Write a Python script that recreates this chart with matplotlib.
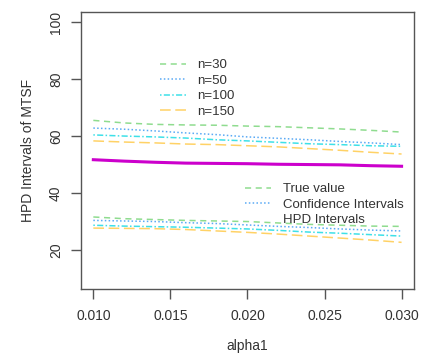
import matplotlib
matplotlib.use("Agg")
import matplotlib.pyplot as plt
from matplotlib.lines import Line2D

plt.rcParams['font.family'] = ['Liberation Sans', 'DejaVu Sans']

# alpha1 grid
alpha1 = [0.010, 0.012, 0.014, 0.016, 0.018, 0.020, 0.022, 0.024, 0.026, 0.028, 0.030]

# upper bounds of intervals
upper_n30 = [65.6, 64.7, 64.2, 64.0, 63.9, 63.6, 63.4, 63.0, 62.6, 62.1, 61.5]
upper_n50 = [62.9, 62.5, 61.9, 61.2, 60.6, 59.8, 59.3, 58.8, 58.2, 57.7, 57.1]
upper_n100 = [60.5, 60.1, 59.8, 59.4, 58.8, 58.4, 57.9, 57.4, 57.1, 56.7, 56.5]
upper_n150 = [58.4, 58.0, 57.7, 57.3, 57.1, 56.7, 56.3, 55.7, 55.1, 54.4, 53.8]

# true MTSF
true_value = [51.8, 51.3, 50.9, 50.6, 50.5, 50.4, 50.2, 50.1, 50.0, 49.7, 49.5]

# lower bounds of intervals
lower_n30 = [31.7, 31.1, 30.8, 30.5, 30.3, 30.1, 29.6, 29.1, 28.8, 28.5, 28.4]
lower_n50 = [30.5, 30.3, 30.1, 29.7, 29.4, 28.9, 28.4, 28.0, 27.5, 27.1, 26.8]
lower_n100 = [28.8, 28.5, 28.3, 28.1, 27.8, 27.5, 27.0, 26.4, 26.0, 25.5, 25.0]
lower_n150 = [27.8, 27.7, 27.6, 27.3, 26.8, 26.3, 25.7, 25.0, 24.3, 23.6, 22.8]

n_labels = ['n=30', 'n=50', 'n=100', 'n=150']
colores = ['#8fdc8f', '#5aaaf5', '#3ee0e8', '#ffd266']
estilos = [(0, (4, 3)), (0, (1, 1.5)), (0, (1, 1.5, 4, 1.5)), (0, (7, 3))]

fig = plt.figure(figsize=(4.23, 3.56), dpi=100)
ax = fig.add_axes([0.1915, 0.188, 0.787, 0.778])

uppers = [upper_n30, upper_n50, upper_n100, upper_n150]
lowers = [lower_n30, lower_n50, lower_n100, lower_n150]
handles = []
for up, lo, cor, ls, lab in zip(uppers, lowers, colores, estilos, n_labels):
    h, = ax.plot(alpha1, up, color=cor, linestyle=ls, linewidth=1.1, label=lab)
    ax.plot(alpha1, lo, color=cor, linestyle=ls, linewidth=1.1)
    handles.append(h)

ax.plot(alpha1, true_value, color='#cc00cc', linewidth=2.2)

ax.set_xlim(0.0092, 0.0308)
ax.set_ylim(6.4, 103.6)
ax.set_xticks([0.010, 0.015, 0.020, 0.025, 0.030])
ax.set_xticklabels(['0.010', '0.015', '0.020', '0.025', '0.030'])
ax.set_yticks([20, 40, 60, 80, 100])
ax.set_yticklabels(['20', '40', '60', '80', '100'], rotation=90, va='center')

for s in ax.spines.values():
    s.set_color('#555555')
    s.set_linewidth(1.0)
ax.tick_params(colors='#555555', labelcolor='#333333', labelsize=10,
               length=7, width=1.0, pad=6)
ax.tick_params(axis='x', pad=7)

ax.set_xlabel('alpha1', fontsize=10, color='#333333', labelpad=12)
ax.set_ylabel('HPD Intervals of MTSF', fontsize=10, color='#333333',
              labelpad=10)

leg1 = ax.legend(handles=handles, loc='upper left',
                 bbox_to_anchor=(160 / 423, 1 - 59 / 356),
                 bbox_transform=fig.transFigure, frameon=False,
                 fontsize=9.5, handlelength=2.0, handletextpad=0.85,
                 labelspacing=0.25, borderpad=0, borderaxespad=0)
for t in leg1.get_texts():
    t.set_color('#333333')
ax.add_artist(leg1)

handles2 = [
    Line2D([], [], color=colores[0], linestyle=estilos[0], linewidth=1.1),
    Line2D([], [], color=colores[1], linestyle=estilos[1], linewidth=1.1),
    Line2D([], [], linestyle='none'),
]
leg2 = ax.legend(handles=handles2,
                 labels=['True value', 'Confidence Intervals', 'HPD Intervals'],
                 loc='upper left',
                 bbox_to_anchor=(245 / 423, 1 - 183 / 356),
                 bbox_transform=fig.transFigure, frameon=False,
                 fontsize=9.5, handlelength=2.0, handletextpad=0.85,
                 labelspacing=0.25, borderpad=0, borderaxespad=0)
for t in leg2.get_texts():
    t.set_color('#333333')

fig.savefig('out.png', dpi=100)
